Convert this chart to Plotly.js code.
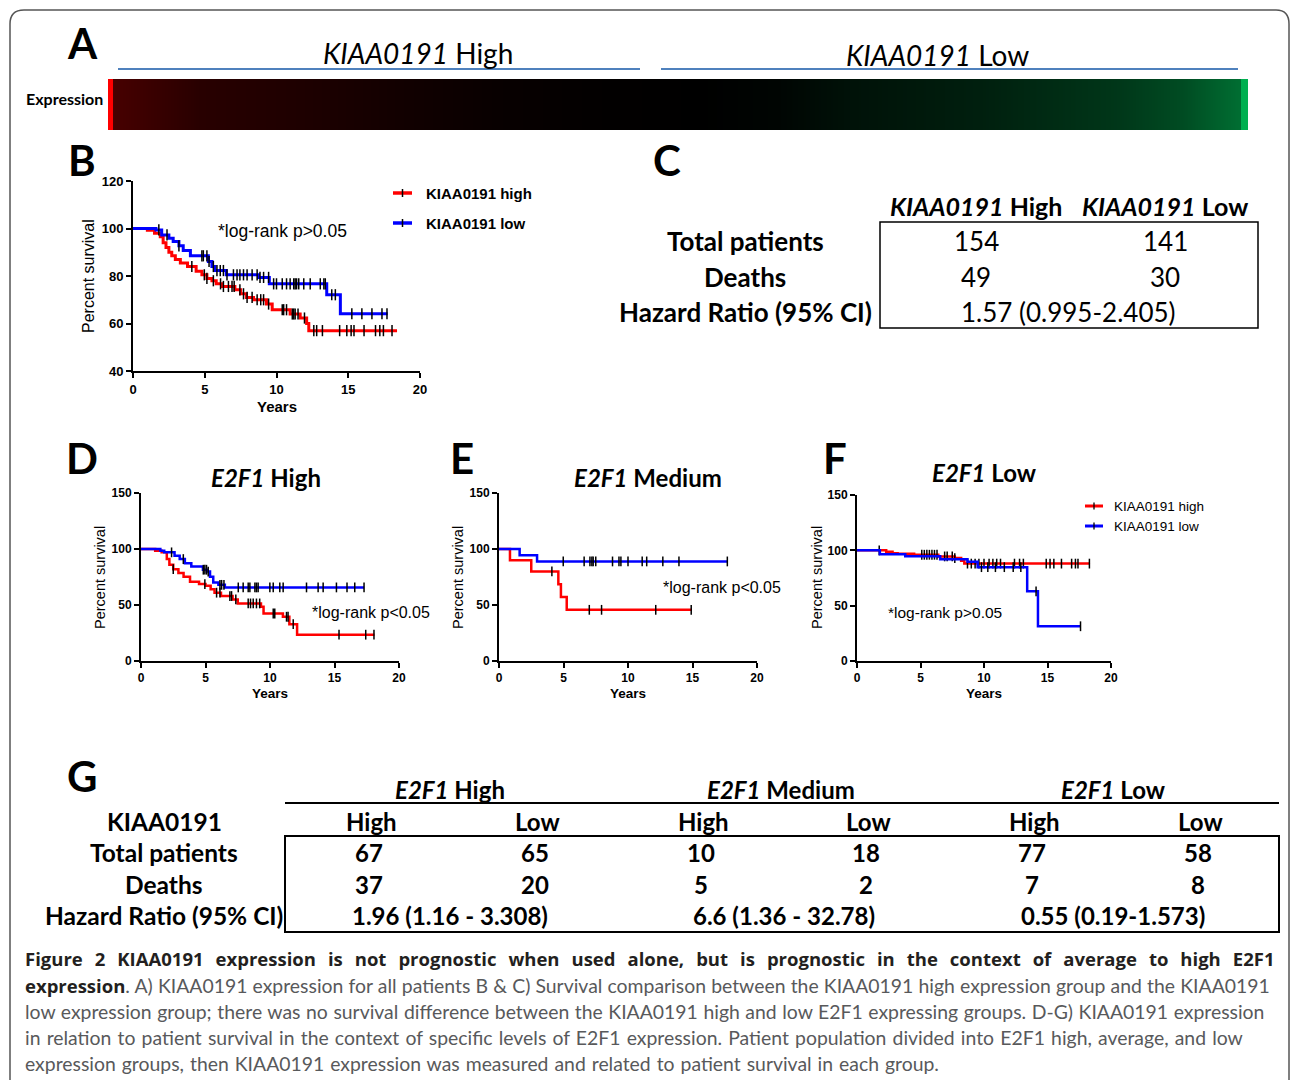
<!DOCTYPE html>
<html><head><meta charset="utf-8">
<script src="https://cdn.plot.ly/plotly-3.0.1.min.js"></script>
<style>html,body{margin:0;padding:0;background:#fff}</style>
</head><body><div id="chart" style="width:1290px;height:1080px"></div>
<script>
// ---------- DATA ----------
// Panel A: expression gradient (position in % of sorted patients, relative expression)
const exprPos = [0, 0.35, 0.41, 0.61, 8.07, 16.84, 25.6, 34.4, 43.2, 51.9, 58.9, 65.1, 76.8, 88.5, 94.3, 99.3, 99.36, 100];
const exprVal = [1, 1, 0.29, 0.275, 0.157, 0.118, 0.07, 0.03, 0.01, 0, -0.03, -0.1, -0.18, -0.31, -0.43, -0.625, -1, -1];

// Panel B: all patients
const bHighT = [0, 1.0, 1.5, 1.9, 2.1, 2.3, 2.5, 2.7, 2.95, 3.3, 3.8, 4.4, 4.8, 5.15, 5.5, 5.8, 6.2, 7.1, 7.5, 7.9, 8.4, 9.3, 9.7, 10.95, 11.65, 12.1, 12.25, 18.4];
const bHighS = [100, 99.3, 98, 96.5, 94, 92, 90, 88.5, 87, 85.5, 84, 82, 80.5, 79, 78, 76.7, 75.6, 74.2, 72.5, 71, 70, 68.2, 65.8, 64, 62.3, 60, 57, 57];
const bHighC = [4.1, 4.97, 5.15, 5.6, 6.1, 6.3, 6.65, 6.9, 7.05, 7.45, 7.7, 7.95, 8.3, 8.65, 8.9, 9.1, 9.45, 10.4, 10.5, 10.7, 11.1, 11.2, 11.3, 11.5, 11.95, 12.6, 12.8, 13.2, 14.4, 14.9, 15.2, 15.4, 16.1, 16.9, 17.2, 17.45, 18.05];
const bLowT = [0, 1.6, 2.0, 2.5, 2.8, 3.2, 3.5, 4.0, 5.25, 5.5, 5.7, 6.5, 8.75, 9.5, 13.5, 14.45, 17.75];
const bLowS = [100, 99.4, 97.3, 95.9, 94.5, 92.7, 90.7, 88.5, 86.1, 84, 82.3, 80.5, 79.4, 76.7, 72.1, 64.1, 64.1];
const bLowC = [1.8, 2.37, 3.2, 4.8, 4.9, 5.15, 5.3, 5.6, 5.85, 6.08, 6.3, 6.55, 7.0, 7.25, 7.45, 7.7, 7.95, 8.3, 8.65, 8.85, 9.1, 9.45, 9.8, 10.0, 10.4, 10.7, 10.95, 11.2, 11.3, 11.4, 11.55, 11.9, 12.35, 13.05, 13.3, 13.4, 13.85, 14.1, 15.25, 15.95, 16.65, 17.35, 17.7];

// Panel D: E2F1 high
const dHighT = [0, 1.1, 1.6, 2.0, 2.2, 2.5, 2.9, 3.3, 3.8, 4.5, 5.0, 5.4, 5.7, 6.2, 7.1, 7.5, 9.3, 9.5, 11.0, 11.5, 12.1, 18.1];
const dHighS = [100, 98.5, 97, 91, 86, 82, 78.5, 75.3, 70.8, 68.7, 67.2, 64, 61, 58, 55, 51.4, 48.4, 42.4, 39.5, 32.9, 23.5, 23.5];
const dHighC = [2.5, 4.95, 5.86, 6.12, 6.89, 7.02, 7.35, 8.31, 8.49, 8.7, 8.95, 9.2, 10.25, 10.37, 11.28, 11.4, 11.8, 15.35, 17.42, 18.06];
const dLowT = [0, 1.5, 1.8, 2.6, 3.0, 3.4, 3.9, 4.8, 5.1, 5.35, 5.6, 6.0, 6.5, 17.3];
const dLowS = [100, 98.5, 97, 94, 91, 87.3, 84.3, 81.5, 79.8, 75.3, 70.2, 68, 65.7, 65.7];
const dLowC = [2.37, 3.28, 4.83, 4.95, 5.08, 5.21, 6.12, 6.25, 6.43, 7.54, 7.92, 8.31, 8.44, 8.83, 8.95, 9.08, 9.99, 10.25, 10.76, 11.02, 12.83, 13.73, 14.12, 15.15, 15.97, 16.57, 17.29];

// Panel E: E2F1 medium
const eHighT = [0, 0.85, 2.5, 4.6, 4.8, 5.25, 14.95];
const eHighS = [100, 90, 80, 68.6, 57.1, 45.7, 45.7];
const eHighC = [4.1, 7.0, 7.95, 12.15, 14.9];
const eLowT = [0, 1.6, 2.95, 17.7];
const eLowS = [100, 94.4, 88.9, 88.9];
const eLowC = [4.98, 6.6, 7.05, 7.2, 7.3, 7.5, 8.8, 9.3, 9.45, 10.0, 11.1, 11.45, 12.7, 13.95, 17.7];

// Panel F: E2F1 low
const fHighT = [0, 2.3, 2.8, 3.2, 4.5, 6.4, 7.7, 8.2, 8.45, 18.35];
const fHighS = [100, 98.7, 97.4, 96.8, 96, 94.5, 93, 90.5, 88, 88];
const fHighC = [1.75, 5.1, 5.3, 5.5, 5.7, 5.9, 6.1, 6.3, 6.9, 7.1, 7.5, 7.7, 8.7, 9.0, 9.3, 9.6, 10.0, 10.4, 10.7, 11.0, 11.3, 12.4, 12.8, 13.1, 14.9, 15.2, 15.5, 16.1, 16.9, 17.2, 17.4, 18.3];
const fLowT = [0, 1.8, 3.8, 6.55, 8.7, 9.5, 13.4, 14.25, 17.6];
const fLowS = [100, 96.5, 94.6, 92, 89.6, 84.8, 63, 31.4, 31.4];
const fLowC = [9.8, 10.3, 10.9, 11.6, 12.3, 12.9, 14.1, 17.6];

// Tables
const cCols = ['<b><i>KIAA0191</i> High</b>', '<b><i>KIAA0191</i> Low</b>'];
const cRows = ['Total patients', 'Deaths', 'Hazard Ratio (95% CI)'];
const cTotal = [154, 141];
const cDeaths = [49, 30];
const cHR = '1.57 (0.995-2.405)';

const gGroups = ['<b><i>E2F1</i> High</b>', '<b><i>E2F1</i> Medium</b>', '<b><i>E2F1</i> Low</b>'];
const gSub = ['High', 'Low', 'High', 'Low', 'High', 'Low'];
const gRows = ['KIAA0191', 'Total patients', 'Deaths', 'Hazard Ratio (95% CI)'];
const gTotal = [67, 65, 10, 18, 77, 58];
const gDeaths = [37, 20, 5, 2, 7, 8];
const gHR = ['1.96 (1.16 - 3.308)', '6.6 (1.36 - 32.78)', '0.55 (0.19-1.573)'];

const BOLDSPAN = '<span style="font-family:Open Sans;font-weight:bold;font-size:18.5px;fill:#231f20">';
const caption = [
  BOLDSPAN + 'Figure 2 KIAA0191 expression is not prognostic when used alone, but is prognostic in the context of average to high E2F1</span>',
  BOLDSPAN + 'expression</span>. A) KIAA0191 expression for all patients B &amp; C) Survival comparison between the KIAA0191 high expression group and the KIAA0191',
  'low expression group; there was no survival difference between the KIAA0191 high and low E2F1 expressing groups. D-G) KIAA0191 expression',
  'in relation to patient survival in the context of specific levels of E2F1 expression. Patient population divided into E2F1 high, average, and low',
  'expression groups, then KIAA0191 expression was measured and related to patient survival in each group.'
];
const captionSpacing = [7.2, 0.2, 0.6, 1.2, 1.0];

// ---------- HELPERS ----------
const W = 1290, H = 1080;
const PX = v => v / W;
const PY = v => 1 - v / H;
const domX = (a, b) => [a / W, b / W];
const domY = (top, bottom) => [1 - bottom / H, 1 - top / H];
const RED = '#ff0000', BLUE = '#0000ff';
const ARIAL = 'Liberation Sans, Arial, sans-serif';
const CAL = 'Lato, Carlito, sans-serif';

function survAt(t, s, x) { let v = s[0]; for (let i = 0; i < t.length; i++) { if (t[i] <= x) v = s[i]; } return v; }

const traces = [];
traces.push({
  type: 'heatmap', x: exprPos, y: [0, 1], z: [exprVal, exprVal], zmin: -1, zmax: 1, zsmooth: 'best',
  colorscale: [[0, '#00b050'], [0.5, '#000000'], [1, '#ff0000']], showscale: false, hoverinfo: 'skip',
  xaxis: 'x', yaxis: 'y'
});
function km(t, s, c, color, width, msize, ax) {
  traces.push({ type: 'scatter', mode: 'lines', x: t, y: s, line: { shape: 'hv', color: color, width: width },
    xaxis: 'x' + ax, yaxis: 'y' + ax, showlegend: false, hoverinfo: 'skip' });
  traces.push({ type: 'scatter', mode: 'markers', x: c, y: c.map(v => survAt(t, s, v)),
    marker: { symbol: 'line-ns-open', size: msize, color: '#000', line: { width: 1.5, color: '#000' } },
    xaxis: 'x' + ax, yaxis: 'y' + ax, showlegend: false, hoverinfo: 'skip', cliponaxis: false });
}
km(bHighT, bHighS, bHighC, RED, 3, 8, 2);
km(bLowT, bLowS, bLowC, BLUE, 3, 8, 2);
km(dHighT, dHighS, dHighC, RED, 2.5, 7, 3);
km(dLowT, dLowS, dLowC, BLUE, 2.5, 7, 3);
km(eHighT, eHighS, eHighC, RED, 2.5, 7, 4);
km(eLowT, eLowS, eLowC, BLUE, 2.5, 7, 4);
km(fHighT, fHighS, fHighC, RED, 2.5, 7, 5);
km(fLowT, fLowS, fLowC, BLUE, 2.5, 7, 5);

function xax(dom, anchor, fs) {
  return { domain: dom, anchor: anchor, range: [0, 20], tickvals: [0, 5, 10, 15, 20], showgrid: false, zeroline: false,
    showline: true, linecolor: '#000', linewidth: 2, ticks: 'outside', ticklen: 5, tickwidth: 2, tickcolor: '#000',
    tickfont: { family: ARIAL, size: fs, color: '#000', weight: 'bold' }, fixedrange: true };
}
function yax(dom, anchor, range, vals, fs) {
  return { domain: dom, anchor: anchor, range: range, tickvals: vals, showgrid: false, zeroline: false,
    showline: true, linecolor: '#000', linewidth: 2, ticks: 'outside', ticklen: 5, tickwidth: 2, tickcolor: '#000',
    tickfont: { family: ARIAL, size: fs, color: '#000', weight: 'bold' }, fixedrange: true };
}

const layout = {
  width: W, height: H, margin: { l: 0, r: 0, t: 0, b: 0 }, paper_bgcolor: '#fff', plot_bgcolor: 'rgba(0,0,0,0)',
  showlegend: false,
  xaxis: { domain: domX(108, 1248), anchor: 'y', range: [0, 100], visible: false, fixedrange: true },
  yaxis: { domain: domY(79, 130), anchor: 'x', range: [0, 1], visible: false, fixedrange: true },
  xaxis2: xax(domX(133, 420), 'y2', 13),
  yaxis2: yax(domY(181, 371), 'x2', [40, 120], [40, 60, 80, 100, 120], 13),
  xaxis3: xax(domX(141, 399), 'y3', 12),
  yaxis3: yax(domY(493, 661), 'x3', [0, 150], [0, 50, 100, 150], 12),
  xaxis4: xax(domX(499, 757), 'y4', 12),
  yaxis4: yax(domY(493, 661), 'x4', [0, 150], [0, 50, 100, 150], 12),
  xaxis5: xax(domX(857, 1111), 'y5', 12),
  yaxis5: yax(domY(495, 661), 'x5', [0, 150], [0, 50, 100, 150], 12),
  annotations: [], shapes: []
};

function ann(text, x, y, o) {
  o = o || {};
  layout.annotations.push({
    text: text, x: PX(x), y: PY(y), xref: 'paper', yref: 'paper', showarrow: false,
    xanchor: o.xa || 'center', yanchor: 'middle', textangle: o.rot || 0, borderpad: 0,
    font: { family: o.family || CAL, size: o.size || 20, color: o.color || '#000', weight: o.weight || 'normal' }
  });
}
function line(x0, y0, x1, y1, color, width) {
  layout.shapes.push({ type: 'line', xref: 'paper', yref: 'paper', x0: PX(x0), y0: PY(y0), x1: PX(x1), y1: PY(y1),
    line: { color: color, width: width } });
}
function rect(x0, y0, x1, y1, color, width) {
  layout.shapes.push({ type: 'rect', xref: 'paper', yref: 'paper', x0: PX(x0), y0: PY(y0), x1: PX(x1), y1: PY(y1),
    line: { color: color, width: width }, fillcolor: 'rgba(0,0,0,0)' });
}

// outer frame
const fr = (x, y) => PX(x) + ',' + PY(y);
layout.shapes.push({ type: 'path', xref: 'paper', yref: 'paper',
  path: 'M' + fr(10, 1082) + ' L' + fr(10, 24) + ' Q' + fr(10, 10) + ' ' + fr(24, 10) + ' L' + fr(1276, 10) + ' Q' + fr(1289, 10) + ' ' + fr(1289, 24) + ' L' + fr(1289, 1082),
  line: { color: '#555', width: 1.5 } });

// panel letters
[['A', 82, 43], ['B', 82, 160], ['C', 667, 160], ['D', 82, 458], ['E', 462, 458], ['F', 835, 458], ['G', 82, 776]]
  .forEach(p => ann(p[0], p[1], p[2], { size: 42, weight: 'bold' }));

// panel A header
ann('<i>KIAA0191</i> High', 418, 53, { size: 28 });
ann('<i>KIAA0191</i> Low', 937, 55, { size: 28 });
line(118, 69, 640, 69, '#4f81bd', 2);
line(661, 69, 1238, 69, '#4f81bd', 2);
ann('Expression', 64, 98, { size: 16, weight: 'bold' });

// axis titles
ann('Percent survival', 88, 276, { family: ARIAL, size: 16, rot: -90 });
ann('Years', 277, 407, { family: ARIAL, size: 15, weight: 'bold' });
[[100, 270, 693], [458, 628, 693], [817, 984, 693]].forEach(a => {
  ann('Percent survival', a[0], 578, { family: ARIAL, size: 14.5, rot: -90 });
  ann('Years', a[1], a[2], { family: ARIAL, size: 13.5, weight: 'bold' });
});

// panel titles
ann('<b><i>E2F1</i> High</b>', 266, 477, { size: 24 });
ann('<b><i>E2F1</i> Medium</b>', 648, 477, { size: 24 });
ann('<b><i>E2F1</i> Low</b>', 984, 472, { size: 24 });

// log-rank notes
ann('*log-rank p&gt;0.05', 282, 231, { family: ARIAL, size: 17.5 });
ann('*log-rank p&lt;0.05', 371, 613, { family: ARIAL, size: 16 });
ann('*log-rank p&lt;0.05', 722, 587, { family: ARIAL, size: 16 });
ann('*log-rank p&gt;0.05', 945, 613, { family: ARIAL, size: 15.5 });

// legends (B and F)
[[193, RED, 'KIAA0191 high'], [223, BLUE, 'KIAA0191 low']].forEach(l => {
  line(393, l[0], 412, l[0], l[1], 3.5);
  line(402.5, l[0] - 4, 402.5, l[0] + 4, '#000', 1.5);
  ann(l[2], 425, l[0], { family: ARIAL, size: 15, weight: 'bold', xa: 'left' });
});
[[506, RED, 'KIAA0191 high'], [526, BLUE, 'KIAA0191 low']].forEach(l => {
  line(1085, l[0], 1103, l[0], l[1], 3);
  line(1094, l[0] - 3.5, 1094, l[0] + 3.5, '#000', 1.3);
  ann(l[2], 1113, l[0], { family: ARIAL, size: 13.5, xa: 'left' });
});

// table C
ann(cCols[0], 976, 206, { size: 25 });
ann(cCols[1], 1165, 206, { size: 25 });
[241, 277, 312].forEach((y, i) => ann('<b>' + cRows[i] + '</b>', 745, y, { size: 26 }));
ann(String(cTotal[0]), 976, 241, { size: 26 });
ann(String(cTotal[1]), 1165, 241, { size: 26 });
ann(String(cDeaths[0]), 976, 277, { size: 26 });
ann(String(cDeaths[1]), 1165, 277, { size: 26 });
ann(cHR, 1068, 312, { size: 26 });
rect(880, 222, 1258, 328, '#000', 1.5);

// table G
const gGroupX = [450, 781, 1113];
const gColX = [371, 537, 703, 868, 1034, 1200];
gGroups.forEach((g, i) => ann(g, gGroupX[i], 789, { size: 24 }));
line(285, 803, 1279, 803, '#000', 2);
[821, 852, 884, 915].forEach((y, i) => ann('<b>' + gRows[i] + '</b>', 164, y, { size: 24.5 }));
gSub.forEach((s, i) => ann('<b>' + s + '</b>', gColX[i], 821, { size: 24 }));
gTotal.forEach((v, i) => ann('<b>' + v + '</b>', gColX[i] - 2, 852, { size: 24 }));
gDeaths.forEach((v, i) => ann('<b>' + v + '</b>', gColX[i] - 2, 884, { size: 24 }));
gHR.forEach((v, i) => ann('<b>' + v + '</b>', [450, 784, 1113][i], 915, { size: 24 }));
rect(285, 836, 1279, 932, '#000', 2);

// caption (justified look via word spacing)
[958, 985, 1011, 1037, 1063].forEach((y, i) => ann('<span style="word-spacing:' + captionSpacing[i] + 'px">' + caption[i] + '</span>', 24, y, { size: 19.4, xa: 'left', color: '#58595b' }));

Plotly.newPlot('chart', traces, layout, { staticPlot: true });
</script></body></html>
